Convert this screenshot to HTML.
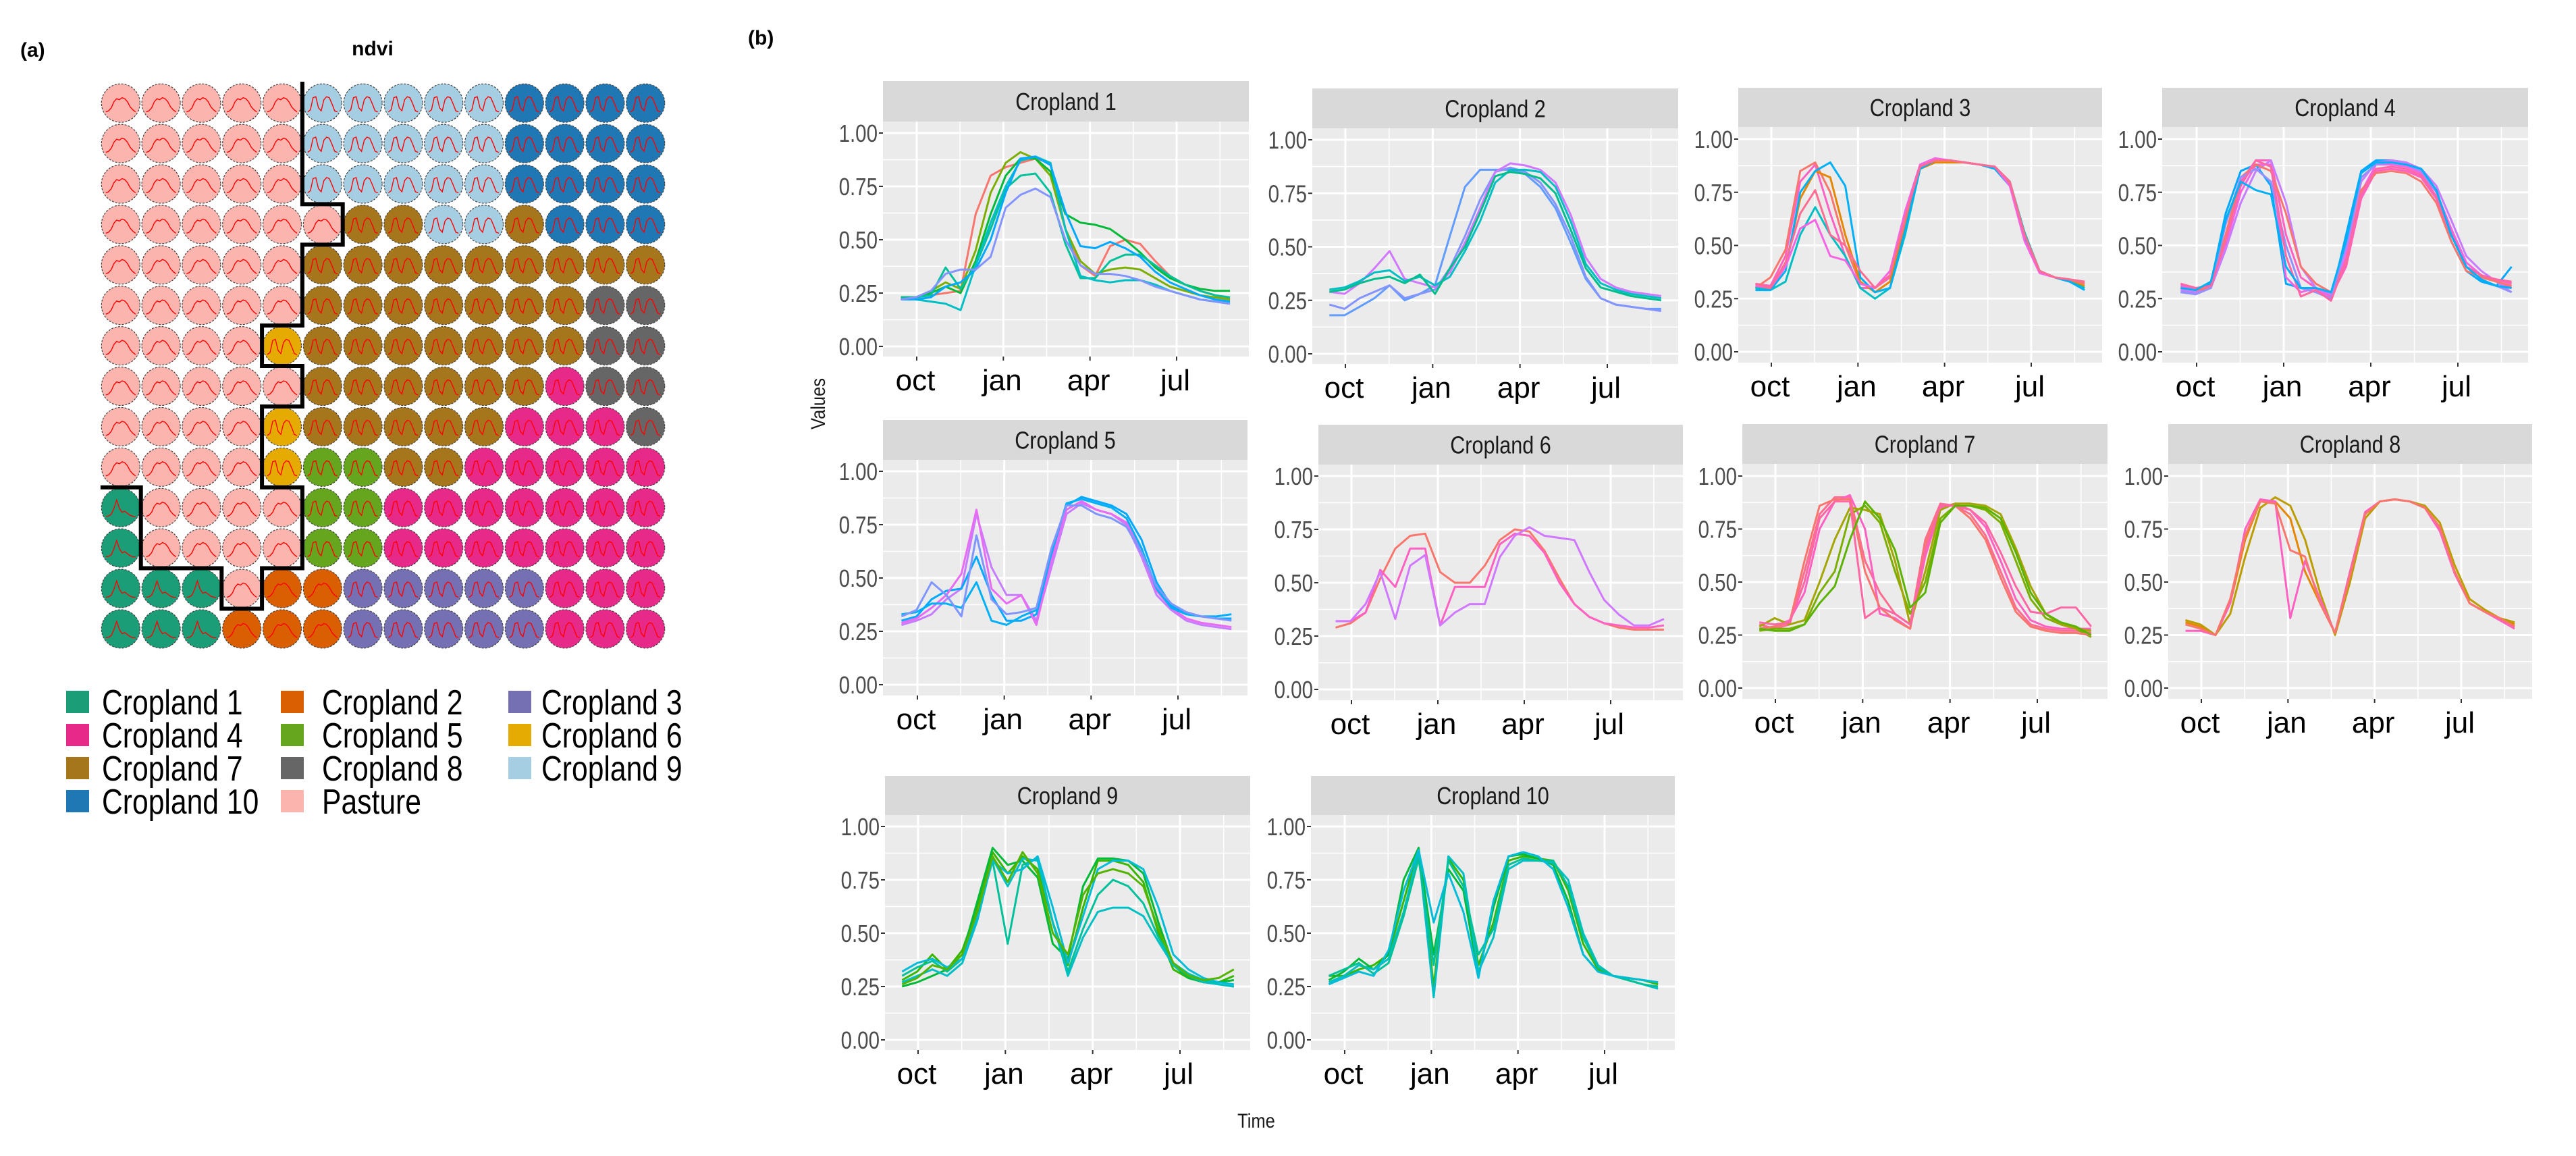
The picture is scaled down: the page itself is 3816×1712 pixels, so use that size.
<!DOCTYPE html>
<html><head><meta charset="utf-8"><style>
html,body{margin:0;padding:0;background:#fff;}
svg{display:block;}
</style></head><body>
<svg id="root" width="3816" height="1712" viewBox="0 0 3816 1712" xmlns="http://www.w3.org/2000/svg">
<rect width="3816" height="1712" fill="#fff"/>
<text x="30" y="84" font-family="Liberation Sans, sans-serif" font-size="30" font-weight="bold">(a)</text>
<text x="552" y="82" text-anchor="middle" font-family="Liberation Sans, sans-serif" font-size="30" font-weight="bold">ndvi</text>
<g id="grid"></g>
<g id="legendA"></g>
<text x="1108" y="66" font-family="Liberation Sans, sans-serif" font-size="30" font-weight="bold">(b)</text>
<g id="panels"></g>
<text transform="translate(1222,598) rotate(-90) scale(0.85,1)" text-anchor="middle" font-family="Liberation Sans, sans-serif" font-size="30" fill="#1a1a1a">Values</text>
<text transform="translate(1861,1670) scale(0.85,1)" text-anchor="middle" font-family="Liberation Sans, sans-serif" font-size="30" fill="#1a1a1a">Time</text>
</svg>
<script>
const NS="http://www.w3.org/2000/svg";
function mk(tag,attrs,parent){const e=document.createElementNS(NS,tag);for(const k in attrs)e.setAttribute(k,attrs[k]);if(parent)parent.appendChild(e);return e;}

// ---------- (a) grid data ----------
const gridRows=["PPPPP99999AAAA","PPPPP99999AAAA","PPPPP99999AAAA","PPPPPP77997AAA","PPPPP777777777","PPPPP777777788","PPPP6777777788","PPPPP777777488","PPPP6777774448","PPPP6557744444","1PPPP554444444","1PPPP554444444","111P2233333444","11122233333444"];
const classColors={P:"#FBB4AE","1":"#1B9E77","2":"#D95F02","3":"#7570B3","4":"#E7298A","5":"#66A61E","6":"#E6AB02","7":"#A6761D","8":"#666666","9":"#A6CEE3",A:"#1F78B4"};
const sparkSingle=[0.1,0.15,0.3,0.6,0.75,0.7,0.8,0.75,0.6,0.35,0.2,0.1];
const sparkDouble=[0.1,0.2,0.8,0.85,0.3,0.15,0.7,0.85,0.8,0.5,0.15,0.1];
const sparkPeak=[0.1,0.12,0.2,0.5,0.9,0.5,0.3,0.35,0.25,0.15,0.1,0.1];
const boundary=[[5,0],[5,3],[6,3],[6,4],[5,4],[5,6],[4,6],[4,7],[5,7],[5,8],[4,8],[4,10],[5,10],[5,12],[4,12],[4,13],[3,13],[3,12],[1,12],[1,10],[0,10]];
const legendEntries=[["1","Cropland 1"],["2","Cropland 2"],["3","Cropland 3"],["4","Cropland 4"],["5","Cropland 5"],["6","Cropland 6"],["7","Cropland 7"],["8","Cropland 8"],["9","Cropland 9"],["A","Cropland 10"],["P","Pasture"]];

const gx0=178.8,gy0=152.7,gp=59.8;
const grid=document.getElementById('grid');
gridRows.forEach((row,r)=>{
  [...row].forEach((c,ci)=>{
    const cx=gx0+gp*ci, cy=gy0+59.9*r;
    const circ=mk('circle',{cx:cx,cy:cy,r:28.5,fill:classColors[c],stroke:"#444","stroke-width":1.2,"stroke-dasharray":"3 2"},grid);
    
    
    const shape=c==="P"||c==="2"?sparkSingle:(c==="1"?sparkPeak:sparkDouble);
    const pts=shape.map((v,i)=>(cx-22+i*4).toFixed(1)+","+(cy+16-v*30).toFixed(1)).join(" ");
    const sp=mk('polyline',{points:pts,fill:"none",stroke:"#FF0000","stroke-width":1.4},grid);
    
    
  });
});
const bpts=boundary.map(([kx,ky])=>{const x=gx0+gp*(kx-0.5);let y=gy0+59.9*(ky-0.5);if(ky===0)y=121;return x.toFixed(1)+","+y.toFixed(1);}).join(" ");
const bl=mk('polyline',{points:bpts,fill:"none",stroke:"#000","stroke-width":6,"stroke-linejoin":"miter"},grid);



const lg=document.getElementById('legendA');
const lgCols=[[98,151],[416,477],[753,802]];
const lgRows=[1040,1089,1138,1187];
legendEntries.forEach(([c,label],i)=>{
  const col=i%3,row=Math.floor(i/3);
  const g=mk('g',{},lg);
  
  
  mk('rect',{x:lgCols[col][0],y:lgRows[row]-17,width:34,height:33,fill:classColors[c]},g);
  const t=mk('text',{transform:"translate("+lgCols[col][1]+","+(lgRows[row]+18)+") scale(0.82,1)","font-family":"Liberation Sans, sans-serif","font-size":52,fill:"#000"},g);
  t.textContent=label;
});

// ---------- (b) chart data ----------
const monthsT=[-0.55,-0.03,0.49,1.00,1.52,2.04,2.56,3.08,3.59,4.11,4.63,5.15,5.67,6.18,6.70,7.22,7.74,8.26,8.77,9.29,9.81,10.33,10.85];
const yTicks=[0,0.25,0.5,0.75,1];
const yTickLabels=["0.00","0.25","0.50","0.75","1.00"];
const yMinor=[0.125,0.375,0.625,0.875];
const xTickMonths=[0,3,6,9];
const xTickLabels=["oct","jan","apr","jul"];
const xMinorMonths=[1.5,4.5,7.5,10.5];
const panelTitles=["Cropland 1","Cropland 2","Cropland 3","Cropland 4","Cropland 5","Cropland 6","Cropland 7","Cropland 8","Cropland 9","Cropland 10"];

const c1Colors=["#F8766D","#7CAE00","#00BA38","#00C19A","#00BFC4","#00A9FF","#8494FF"];
const c1Values=[
[.23,.23,.24,.25,.26,.62,.80,.84,.86,.88,.86,.55,.38,.33,.47,.50,.48,.40,.33,.29,.26,.24,.22],
[.23,.23,.26,.30,.27,.45,.72,.86,.91,.88,.80,.55,.40,.34,.36,.37,.36,.32,.28,.26,.24,.23,.22],
[.22,.23,.25,.28,.25,.40,.62,.80,.88,.88,.82,.62,.58,.57,.55,.50,.44,.37,.32,.29,.27,.26,.26],
[.23,.23,.24,.37,.27,.38,.55,.74,.80,.81,.72,.48,.32,.32,.40,.43,.43,.38,.33,.29,.26,.24,.23],
[.22,.22,.21,.20,.17,.38,.58,.75,.87,.89,.86,.55,.33,.31,.30,.31,.31,.29,.26,.24,.22,.21,.20],
[.22,.22,.23,.28,.30,.36,.50,.72,.88,.89,.85,.63,.47,.46,.49,.46,.42,.35,.30,.27,.24,.22,.21],
[.22,.23,.26,.34,.36,.36,.42,.65,.71,.74,.70,.50,.38,.34,.34,.33,.31,.28,.26,.24,.22,.21,.20]];
const c2Colors=["#619CFF","#8494FF","#D078FF","#00BFC4","#00BE8C"];
const c2Values=[
[.18,.18,.22,.26,.32,.25,.28,.32,.55,.78,.86,.86,.86,.84,.78,.68,.52,.35,.26,.23,.22,.21,.21],
[.23,.21,.26,.29,.32,.26,.28,.30,.40,.55,.72,.85,.87,.85,.80,.70,.55,.36,.26,.23,.22,.21,.20],
[.29,.28,.33,.40,.48,.35,.33,.31,.38,.52,.68,.85,.89,.88,.86,.80,.65,.45,.35,.31,.29,.28,.27],
[.30,.31,.34,.38,.39,.34,.36,.32,.36,.48,.62,.80,.86,.86,.85,.78,.62,.42,.33,.30,.28,.27,.26],
[.29,.30,.33,.35,.36,.33,.37,.28,.40,.50,.66,.83,.85,.84,.82,.75,.58,.40,.31,.29,.27,.26,.25]];
const c3Colors=["#FF61C3","#F8766D","#E58700","#00BFC4","#00B0F6","#F564E3","#FF6C91"];
const c3Values=[
[.32,.31,.45,.80,.88,.65,.45,.30,.30,.35,.60,.87,.90,.90,.89,.88,.87,.80,.55,.38,.35,.34,.32],
[.30,.35,.48,.85,.89,.75,.50,.32,.30,.36,.62,.87,.90,.90,.89,.88,.87,.78,.55,.38,.35,.34,.32],
[.30,.30,.40,.72,.85,.82,.55,.33,.28,.33,.58,.86,.89,.89,.89,.88,.87,.79,.56,.38,.35,.33,.31],
[.30,.29,.33,.55,.68,.55,.45,.30,.25,.30,.55,.86,.90,.90,.89,.88,.87,.80,.56,.38,.35,.33,.30],
[.29,.29,.38,.75,.85,.89,.78,.35,.28,.30,.57,.86,.90,.90,.89,.88,.86,.78,.54,.38,.35,.33,.29],
[.31,.30,.40,.58,.62,.45,.43,.32,.30,.38,.66,.88,.91,.90,.89,.88,.87,.78,.52,.37,.35,.34,.33],
[.32,.30,.42,.65,.76,.55,.50,.38,.30,.36,.63,.87,.90,.90,.89,.88,.87,.80,.55,.38,.35,.34,.33]];
const c4Colors=["#00A9FF","#FF61C3","#F564E3","#C77CFF","#F8766D","#9590FF","#FF67A4","#00B0F6"];
const c4Values=[
[.28,.28,.32,.65,.85,.88,.78,.32,.30,.28,.25,.55,.85,.90,.90,.89,.85,.72,.52,.38,.33,.31,.40],
[.30,.29,.30,.55,.80,.90,.90,.55,.35,.30,.26,.40,.72,.85,.86,.85,.82,.72,.55,.40,.36,.34,.32],
[.31,.30,.30,.50,.75,.88,.88,.35,.28,.30,.25,.45,.75,.88,.88,.87,.84,.75,.58,.42,.36,.33,.30],
[.29,.28,.30,.48,.70,.85,.90,.70,.40,.30,.27,.48,.80,.89,.90,.89,.86,.78,.62,.45,.38,.33,.28],
[.30,.29,.30,.55,.82,.88,.85,.65,.40,.32,.28,.42,.76,.84,.85,.84,.80,.70,.52,.38,.35,.33,.31],
[.28,.27,.30,.60,.82,.86,.80,.50,.30,.28,.25,.50,.82,.88,.89,.88,.85,.75,.55,.40,.34,.31,.28],
[.32,.30,.31,.52,.78,.90,.87,.45,.26,.29,.24,.43,.74,.86,.87,.86,.83,.73,.56,.40,.36,.34,.33],
[.30,.29,.33,.62,.80,.76,.74,.40,.30,.30,.28,.52,.84,.89,.89,.88,.86,.76,.55,.40,.34,.31,.30]];
const c5Colors=["#C77CFF","#00A9FF","#E76BF3","#00B0F6","#7F96FF"];
const c5Values=[
[.28,.30,.33,.40,.45,.80,.55,.42,.42,.30,.55,.80,.85,.82,.80,.75,.60,.42,.35,.30,.28,.27,.26],
[.30,.32,.40,.44,.45,.60,.42,.30,.30,.33,.60,.84,.88,.86,.84,.80,.68,.48,.37,.33,.32,.31,.31],
[.29,.31,.36,.42,.52,.82,.45,.38,.42,.28,.58,.82,.86,.82,.80,.76,.62,.44,.36,.31,.29,.28,.27],
[.33,.34,.38,.38,.36,.48,.30,.28,.32,.35,.62,.85,.87,.85,.83,.78,.64,.45,.36,.33,.32,.32,.33],
[.32,.35,.48,.42,.32,.70,.40,.33,.34,.36,.64,.84,.84,.80,.78,.74,.62,.46,.38,.34,.32,.31,.30]];
const c6Colors=["#F8766D","#FF61C3","#D078FF"];
const c6Values=[
[.29,.31,.36,.52,.66,.72,.73,.55,.50,.50,.58,.70,.75,.74,.65,.52,.40,.34,.31,.29,.28,.28,.28],
[.32,.32,.36,.56,.48,.66,.66,.30,.48,.48,.48,.68,.73,.72,.64,.50,.40,.34,.31,.30,.29,.29,.30],
[.32,.32,.40,.55,.33,.58,.63,.30,.36,.40,.40,.62,.72,.76,.72,.71,.70,.55,.42,.35,.30,.30,.33]];
const c7Colors=["#FF6C91","#FF61C3","#7CAE00","#A3A500","#F8766D","#FF67A4","#5BB300"];
const c7Values=[
[.30,.28,.30,.55,.82,.90,.90,.60,.45,.35,.30,.70,.87,.86,.82,.72,.55,.38,.30,.28,.27,.27,.26],
[.28,.29,.32,.45,.75,.88,.91,.75,.35,.33,.28,.62,.85,.87,.84,.76,.60,.42,.32,.29,.28,.28,.28],
[.27,.28,.28,.30,.45,.55,.82,.86,.78,.55,.35,.50,.80,.86,.86,.84,.78,.60,.42,.33,.30,.28,.24],
[.29,.33,.30,.32,.50,.70,.85,.84,.82,.60,.30,.55,.84,.87,.87,.86,.82,.66,.48,.35,.30,.28,.27],
[.28,.29,.31,.60,.86,.89,.89,.55,.38,.32,.28,.68,.86,.86,.80,.70,.52,.36,.29,.27,.26,.26,.25],
[.31,.30,.31,.50,.80,.88,.88,.33,.38,.35,.30,.65,.86,.86,.84,.78,.64,.48,.36,.35,.38,.38,.29],
[.28,.27,.27,.30,.40,.48,.70,.88,.80,.65,.38,.45,.78,.86,.86,.85,.80,.64,.45,.35,.31,.29,.25]];
const c8Colors=["#E58700","#BB9D00","#FF61C3","#F8766D"];
const c8Values=[
[.31,.29,.25,.40,.70,.88,.88,.80,.55,.40,.26,.55,.82,.88,.89,.88,.85,.75,.55,.40,.36,.33,.30],
[.32,.30,.25,.35,.62,.85,.90,.86,.70,.45,.25,.50,.80,.88,.89,.88,.86,.78,.58,.42,.37,.33,.31],
[.27,.27,.25,.40,.75,.89,.88,.33,.60,.42,.26,.55,.83,.88,.89,.88,.85,.74,.54,.40,.36,.32,.28],
[.30,.28,.25,.42,.72,.88,.87,.65,.62,.40,.26,.53,.82,.88,.89,.88,.85,.76,.55,.40,.36,.33,.29]];
const c9Colors=["#39B600","#00BA38","#00C19A","#00BFC4","#00BCD8","#53B400"];
const c9Values=[
[.28,.32,.40,.33,.42,.62,.88,.78,.86,.80,.55,.35,.62,.84,.84,.82,.74,.50,.33,.29,.27,.27,.30],
[.25,.27,.30,.33,.40,.65,.90,.82,.84,.76,.45,.38,.72,.85,.85,.84,.78,.55,.35,.29,.27,.27,.28],
[.30,.34,.37,.32,.38,.58,.84,.45,.82,.85,.55,.32,.52,.68,.75,.72,.64,.48,.36,.31,.28,.26,.25],
[.27,.30,.33,.30,.36,.56,.85,.72,.85,.84,.55,.30,.48,.60,.62,.62,.58,.46,.35,.30,.27,.26,.25],
[.32,.36,.38,.34,.38,.58,.84,.78,.80,.86,.62,.36,.58,.80,.84,.84,.80,.62,.40,.33,.29,.27,.26],
[.26,.29,.35,.33,.40,.60,.86,.74,.88,.78,.50,.40,.68,.78,.80,.78,.72,.52,.36,.30,.28,.29,.33]];
const c10Colors=["#39B600","#00BA38","#00BFC4","#00C19A","#00BCD8"];
const c10Values=[
[.30,.30,.33,.35,.40,.65,.90,.25,.85,.75,.35,.55,.84,.86,.85,.84,.70,.45,.33,.30,.29,.28,.26],
[.28,.32,.38,.33,.40,.75,.90,.40,.80,.70,.30,.62,.86,.87,.85,.82,.65,.40,.32,.30,.29,.28,.27],
[.27,.30,.35,.33,.38,.60,.88,.20,.86,.78,.32,.48,.80,.84,.84,.83,.75,.50,.35,.30,.28,.26,.24],
[.30,.33,.36,.31,.36,.58,.85,.35,.84,.72,.40,.52,.82,.85,.84,.84,.72,.48,.34,.30,.28,.26,.25],
[.26,.29,.32,.30,.42,.70,.89,.55,.78,.60,.29,.65,.86,.88,.86,.80,.62,.40,.32,.30,.29,.28,.27]];

const panelSeries=[[c1Values,c1Colors],[c2Values,c2Colors],[c3Values,c3Colors],[c4Values,c4Colors],[c5Values,c5Colors],[c6Values,c6Colors],[c7Values,c7Colors],[c8Values,c8Colors],[c9Values,c9Colors],[c10Values,c10Colors]];
// layout (pixel geometry, not data)
const layout=[
{x0:1308,x1:1850,st:120,pt:180,y1:197,y0:513,pb:528,oct:1358,jul:1743},
{x0:1944,x1:2486,st:131,pt:190,y1:207,y0:524,pb:539,oct:1993,jul:2381},
{x0:2575,x1:3114,st:130,pt:188,y1:206,y0:521,pb:537,oct:2624,jul:3009},
{x0:3203,x1:3745,st:130,pt:188,y1:206,y0:521,pb:537,oct:3254,jul:3641},
{x0:1308,x1:1848,st:622,pt:681,y1:698,y0:1014,pb:1030,oct:1359,jul:1745},
{x0:1953,x1:2493,st:629,pt:688,y1:705,y0:1021,pb:1037,oct:2002,jul:2386},
{x0:2581,x1:3122,st:628,pt:687,y1:705,y0:1019,pb:1035,oct:2630,jul:3018},
{x0:3212,x1:3751,st:628,pt:687,y1:705,y0:1019,pb:1035,oct:3261,jul:3646},
{x0:1311,x1:1852,st:1149,pt:1207,y1:1224,y0:1540,pb:1555,oct:1360,jul:1748},
{x0:1942,x1:2481,st:1149,pt:1207,y1:1224,y0:1540,pb:1555,oct:1992,jul:2377}];

const panelsG=document.getElementById('panels');
layout.forEach((L,pi)=>{
  const g=mk('g',{},panelsG);
  
  
  const xs=m=>L.oct+(L.jul-L.oct)*m/9;
  const ys=v=>L.y0+(L.y1-L.y0)*v;
  const strip=mk('rect',{x:L.x0,y:L.st,width:L.x1-L.x0,height:L.pt-L.st,fill:"#D9D9D9"},g);
  
  
  const st=mk('text',{transform:"translate("+((L.x0+L.x1)/2)+","+((L.st+L.pt)/2+13)+") scale(0.85,1)","text-anchor":"middle","font-family":"Liberation Sans, sans-serif","font-size":36,fill:"#1A1A1A"},g);
  
  
  st.textContent=panelTitles[pi];
  const bg=mk('rect',{x:L.x0,y:L.pt,width:L.x1-L.x0,height:L.pb-L.pt,fill:"#EBEBEB"},g);
  
  
  yMinor.forEach(v=>mk('line',{x1:L.x0,x2:L.x1,y1:ys(v),y2:ys(v),stroke:"#fff","stroke-width":1.5},g));
  xMinorMonths.forEach(m=>mk('line',{x1:xs(m),x2:xs(m),y1:L.pt,y2:L.pb,stroke:"#fff","stroke-width":1.5},g));
  yTicks.forEach((v,i)=>{
    mk('line',{x1:L.x0,x2:L.x1,y1:ys(v),y2:ys(v),stroke:"#fff","stroke-width":3},g);
    mk('line',{x1:L.x0-6,x2:L.x0,y1:ys(v),y2:ys(v),stroke:"#333","stroke-width":2},g);
    const t=mk('text',{transform:"translate("+(L.x0-8)+","+(ys(v)+13)+") scale(0.82,1)","text-anchor":"end","font-family":"Liberation Sans, sans-serif","font-size":36,fill:"#4D4D4D"},g);
    
    
    t.textContent=yTickLabels[i];
  });
  xTickMonths.forEach((m,i)=>{
    mk('line',{x1:xs(m),x2:xs(m),y1:L.pt,y2:L.pb,stroke:"#fff","stroke-width":3},g);
    mk('line',{x1:xs(m),x2:xs(m),y1:L.pb,y2:L.pb+6,stroke:"#333","stroke-width":2},g);
    const t=mk('text',{x:xs(m)-2,y:L.pb+50,"text-anchor":"middle","font-family":"Liberation Sans, sans-serif","font-size":44,fill:"#000"},g);
    
    
    t.textContent=xTickLabels[i];
  });
  const [vals,cols]=panelSeries[pi];
  vals.forEach((series,si)=>{
    const pts=series.map((v,i)=>xs(monthsT[i]).toFixed(1)+","+ys(v).toFixed(1)).join(" ");
    const pl=mk('polyline',{points:pts,fill:"none",stroke:cols[si%cols.length],"stroke-width":3,"stroke-linejoin":"round"},g);
    
    
  });
});
</script>
</body></html>
